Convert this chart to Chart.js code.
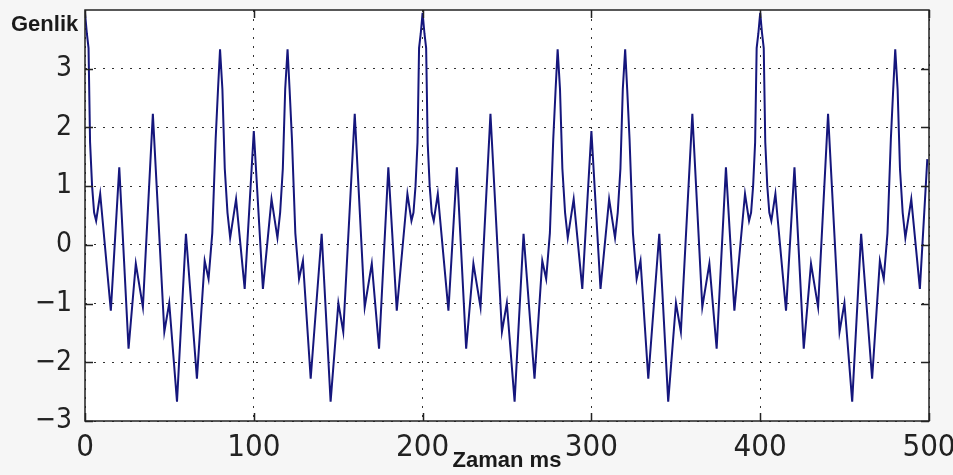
<!DOCTYPE html>
<html lang="tr">
<head>
<meta charset="utf-8">
<title>Genlik - Zaman</title>
<script src="https://cdn.jsdelivr.net/npm/chart.js@4.4.1/dist/chart.umd.min.js"></script>
<style>
  html, body { margin: 0; padding: 0; background: #f6f6f6; }
  #wrap { width: 953px; height: 475px; position: relative; }
</style>
</head>
<body>
<div id="wrap"><canvas id="signal-chart" width="953" height="475"></canvas></div>
<script>
// time axis (ms): peaks, troughs and a few points on the steep edges
const timeMs = [
  0, 1.1, 2.1, 3.0, 4.2, 5.4, 6.6, 9.0, 15.3, 20.3, 25.8, 30.1, 34.3, 40.2, 47.0, 49.9,
  54.5, 59.8, 66.3, 70.9, 73.2, 75.4, 77.4, 78.8, 80.0, 81.4, 82.8, 84.4, 86.0, 89.5, 94.6,
  100, 105.4, 110.5, 114.0, 115.6, 117.2, 118.6, 120.0, 121.2, 122.6, 124.6, 126.8, 129.1, 133.7, 140.2,
  145.5, 150.1, 153.0, 159.8, 165.7, 169.9, 174.2, 179.7, 184.7, 191.0, 193.4, 194.6, 195.8, 197.0, 197.9, 198.9,
  200, 201.1, 202.1, 203.0, 204.2, 205.4, 206.6, 209.0, 215.3, 220.3, 225.8, 230.1, 234.3, 240.2, 247.0, 249.9,
  254.5, 259.8, 266.3, 270.9, 273.2, 275.4, 277.4, 278.8, 280.0, 281.4, 282.8, 284.4, 286.0, 289.5, 294.6,
  300, 305.4, 310.5, 314.0, 315.6, 317.2, 318.6, 320.0, 321.2, 322.6, 324.6, 326.8, 329.1, 333.7, 340.2,
  345.5, 350.1, 353.0, 359.8, 365.7, 369.9, 374.2, 379.7, 384.7, 391.0, 393.4, 394.6, 395.8, 397.0, 397.9, 398.9,
  400, 401.1, 402.1, 403.0, 404.2, 405.4, 406.6, 409.0, 415.3, 420.3, 425.8, 430.1, 434.3, 440.2, 447.0, 449.9,
  454.5, 459.8, 466.3, 470.9, 473.2, 475.4, 477.4, 478.8, 480.0, 481.4, 482.8, 484.4, 486.0, 489.5, 494.6,
  499
];

// amplitude (Genlik) at each time above
const amplitude = [
  3.95, 3.6, 3.35, 1.75, 1.0, 0.55, 0.41, 0.87, -1.12, 1.32, -1.77, -0.32, -1.06, 2.23, -1.48, -0.99,
  -2.67, 0.19, -2.28, -0.27, -0.58, 0.2, 1.8, 2.65, 3.33, 2.65, 1.3, 0.55, 0.12, 0.78, -0.75,
  1.94, -0.75, 0.78, 0.12, 0.55, 1.3, 2.65, 3.33, 2.65, 1.8, 0.2, -0.58, -0.27, -2.28, 0.19,
  -2.67, -0.99, -1.48, 2.23, -1.06, -0.32, -1.77, 1.32, -1.12, 0.87, 0.41, 0.55, 1.0, 1.75, 3.35, 3.6,
  3.95, 3.6, 3.35, 1.75, 1.0, 0.55, 0.41, 0.87, -1.12, 1.32, -1.77, -0.32, -1.06, 2.23, -1.48, -0.99,
  -2.67, 0.19, -2.28, -0.27, -0.58, 0.2, 1.8, 2.65, 3.33, 2.65, 1.3, 0.55, 0.12, 0.78, -0.75,
  1.94, -0.75, 0.78, 0.12, 0.55, 1.3, 2.65, 3.33, 2.65, 1.8, 0.2, -0.58, -0.27, -2.28, 0.19,
  -2.67, -0.99, -1.48, 2.23, -1.06, -0.32, -1.77, 1.32, -1.12, 0.87, 0.41, 0.55, 1.0, 1.75, 3.35, 3.6,
  3.95, 3.6, 3.35, 1.75, 1.0, 0.55, 0.41, 0.87, -1.12, 1.32, -1.77, -0.32, -1.06, 2.23, -1.48, -0.99,
  -2.67, 0.19, -2.28, -0.27, -0.58, 0.2, 1.8, 2.65, 3.33, 2.65, 1.3, 0.55, 0.12, 0.78, -0.75,
  1.46
];

const xTicks = [0, 100, 200, 300, 400, 500];
const yTicks = [-3, -2, -1, 0, 1, 2, 3];

const xTitle = 'Zaman ms';
const yTitle = 'Genlik';

document.addEventListener('DOMContentLoaded', () => {

  /* ========================================================
     1. MATLAB-STYLE FRAME (white axes, box, inward ticks, labels)
     ======================================================== */
  const matlabFrame = {
    id: 'matlabFrame',
    beforeDraw(chart) {
      const { ctx, chartArea: a } = chart;
      ctx.save();
      ctx.fillStyle = '#ffffff';
      ctx.fillRect(a.left, a.top, a.right - a.left, a.bottom - a.top);
      ctx.restore();
    },
    afterDraw(chart) {
      const { ctx, chartArea: a, scales } = chart;
      const tickLen = 8;
      ctx.save();
      ctx.strokeStyle = '#222222';
      ctx.lineWidth = 1.5;
      ctx.strokeRect(a.left, a.top, a.right - a.left, a.bottom - a.top);

      ctx.beginPath();
      xTicks.forEach(v => {
        const px = Math.round(scales.x.getPixelForValue(v)) + 0.5;
        ctx.moveTo(px, a.bottom); ctx.lineTo(px, a.bottom - tickLen);
        ctx.moveTo(px, a.top);    ctx.lineTo(px, a.top + tickLen);
      });
      yTicks.forEach(v => {
        const py = Math.round(scales.y.getPixelForValue(v)) + 0.5;
        ctx.moveTo(a.left, py);  ctx.lineTo(a.left + tickLen, py);
        ctx.moveTo(a.right, py); ctx.lineTo(a.right - tickLen, py);
      });
      ctx.stroke();

      // axis titles sit inside the tick-label band, like the original figure
      ctx.fillStyle = '#1a1a1a';
      ctx.font = "bold 22px 'Liberation Sans', Arial, sans-serif";
      ctx.textBaseline = 'alphabetic';
      ctx.textAlign = 'left';
      ctx.fillText(yTitle, 11, 31);
      ctx.textAlign = 'center';
      ctx.fillText(xTitle, (a.left + a.right) / 2, 467);
      ctx.restore();
    }
  };

  // keep the plot box where the figure has it: no extra room for edge labels
  const noEdgePadding = scale => {
    scale.paddingTop = 0;
    scale.paddingBottom = 0;
    scale.paddingLeft = 0;
    scale.paddingRight = 0;
  };

  /* ========================================================
     2. RENDER SIGNAL
     ======================================================== */
  const canvasEl = document.getElementById('signal-chart');
  const ctx = canvasEl.getContext('2d');
  const tickFont = "'Liberation Sans Narrow', 'DejaVu Sans Condensed', 'Liberation Sans', sans-serif";

  new Chart(ctx, {
    type: 'line',
    data: {
      datasets: [{
        data: timeMs.map((t, i) => ({ x: t, y: amplitude[i] })),
        borderColor: '#15167c',
        borderWidth: 2,
        pointRadius: 0,
        tension: 0,
        fill: false
      }]
    },
    options: {
      responsive: false,
      animation: false,
      layout: { padding: { top: 10, right: 24, left: 0, bottom: 0 } },
      plugins: {
        legend: { display: false },
        tooltip: { enabled: false }
      },
      scales: {
        x: {
          type: 'linear',
          min: 0,
          max: 500,
          afterBuildTicks: scale => { scale.ticks = xTicks.map(v => ({ value: v })); },
          afterFit: scale => { scale.height = 54; noEdgePadding(scale); },
          grid: { color: '#333333', lineWidth: 1, drawTicks: false },
          border: { display: false, dash: [2, 7] },
          ticks: {
            padding: 8,
            color: '#222222',
            font: { family: tickFont, size: 31 },
            maxRotation: 0
          }
        },
        y: {
          min: -3,
          max: 4,
          afterBuildTicks: scale => { scale.ticks = yTicks.map(v => ({ value: v })); },
          afterFit: scale => { scale.width = 85; noEdgePadding(scale); },
          grid: { color: '#333333', lineWidth: 1, drawTicks: false },
          border: { display: false, dash: [2, 7] },
          ticks: {
            padding: 13,
            color: '#222222',
            font: { family: tickFont, size: 28 },
            callback: v => String(v).replace('-', '\u2212')
          }
        }
      }
    },
    plugins: [matlabFrame]
  });

});
</script>
</body>
</html>
